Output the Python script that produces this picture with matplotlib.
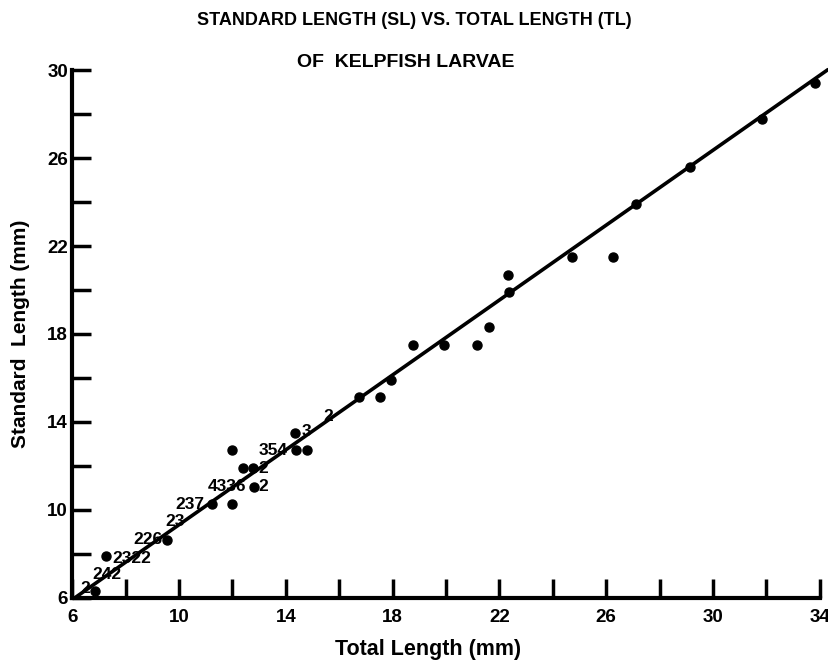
import matplotlib
matplotlib.use("Agg")
import matplotlib.pyplot as plt
import numpy as np

plt.rcParams['font.family'] = ['Liberation Sans', 'DejaVu Sans']
plt.rcParams['font.weight'] = 'bold'

# total length (mm) and standard length (mm) of single larvae
tl = [6.86, 7.27, 9.57, 11.23, 11.98, 12.0, 12.39, 12.77, 12.82, 14.35,
      14.39, 14.79, 16.75, 17.53, 17.95, 18.75, 19.94, 21.16, 21.6, 22.34,
      22.37, 24.7, 26.27, 27.12, 29.12, 31.83, 33.8]
sl = [6.33, 7.9, 8.64, 10.27, 10.27, 12.7, 11.9, 11.9, 11.06, 13.5,
      12.7, 12.7, 15.15, 15.15, 15.9, 17.5, 17.5, 17.5, 18.3, 20.7,
      19.9, 21.5, 21.5, 23.9, 25.6, 27.76, 29.4]

# number of larvae at overlapping positions
count_text = ["2", "242", "2322", "226", "23", "237", "4336", "2", "2", "354", "3", "2"]
count_tl = [6.49, 7.30, 8.24, 8.85, 9.86, 10.42, 11.79, 13.16, 13.16, 13.54, 14.79, 15.6]
count_sl = [6.41, 7.05, 7.80, 8.64, 9.47, 10.23, 11.06, 11.06, 11.9, 12.7, 13.56, 14.24]

# regression line SL = a * TL + b
slope = 0.852
intercept = 0.80
line_tl = [6.1, 34.3]

fig = plt.figure(figsize=(8.29, 6.62), dpi=100)
ax = fig.add_axes([0.087, 0.097, 0.902, 0.797])

ax.plot(tl, sl, 'o', color='black', markersize=6.5)
line_sl = [slope * x + intercept for x in line_tl]
ax.plot(line_tl, line_sl, color='black', linewidth=2.6, clip_on=False,
        solid_capstyle='round')

for t, x, y in zip(count_text, count_tl, count_sl):
    ax.text(x, y, t, fontsize=12.5, fontweight='bold', ha='center', va='center')

ax.set_xlim(6, 34)
ax.set_ylim(6, 30)
ax.set_xticks(np.arange(6, 35, 4))
ax.set_xticks(np.arange(8, 35, 2), minor=True)
ax.set_yticks(np.arange(6, 31, 4))
ax.set_yticks(np.arange(8, 31, 2), minor=True)
ax.tick_params(axis='both', which='both', direction='in', width=2.5,
               color='black', length=14)
ax.tick_params(axis='x', which='major', labelsize=13.5, pad=8)
ax.tick_params(axis='y', which='major', labelsize=13.5, pad=3)
for lab in ax.get_xticklabels() + ax.get_yticklabels():
    lab.set_fontweight('bold')

ax.spines['top'].set_visible(False)
ax.spines['right'].set_visible(False)
ax.spines['left'].set_linewidth(3)
ax.spines['bottom'].set_linewidth(3)

ax.set_xlabel('Total Length (mm)', fontsize=15.5, fontweight='bold')
ax.xaxis.set_label_coords(0.476, -0.078)
ax.set_ylabel('Standard  Length (mm)', fontsize=15, fontweight='bold', labelpad=12)

fig.text(0.5, 0.969, 'STANDARD LENGTH (SL) VS. TOTAL LENGTH (TL)',
         ha='center', va='center', fontsize=13, fontweight='bold')
fig.text(0.49, 0.906, 'OF  KELPFISH LARVAE',
         ha='center', va='center', fontsize=14, fontweight='bold')

fig.savefig('out.png', dpi=100)
